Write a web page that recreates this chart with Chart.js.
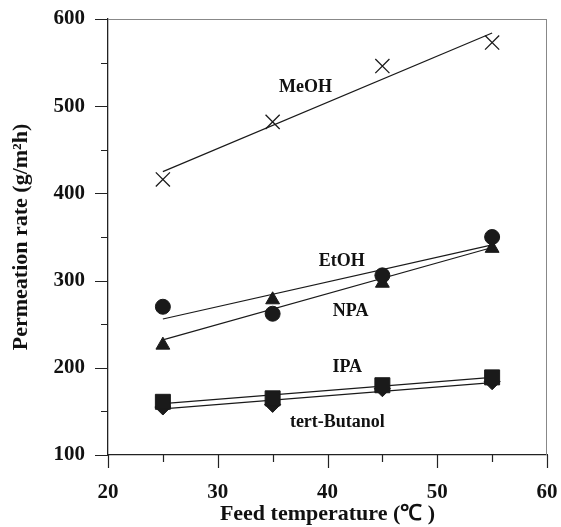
<!DOCTYPE html>
<html>
<head>
<meta charset="utf-8">
<script src="https://cdn.jsdelivr.net/npm/chart.js@4/dist/chart.umd.min.js"></script>
<style>
  body { margin: 0; background: #fff; }
</style>
</head>
<body>
<canvas id="chart" width="561" height="527"></canvas>
<script>
// feed temperatures (C)
const temps = [25, 35, 45, 55];

// measured permeation rates (g/m2h)
const meoh = [416, 482, 546, 573];
const etoh = [270, 262, 306, 350];
const npa  = [226, 278, 297, 337];
const ipa  = [161, 165, 180, 189];
const tbu  = [155, 158, 176, 184];

// fitted lines, value at 25 and 55 C
const fitX    = [25, 55];
const meohFit = [425, 584];
const etohFit = [256, 341];
const npaFit  = [232, 338];
const ipaFit  = [159, 189];
const tbuFit  = [153, 183];

// text labels next to each series [name, x, y]
const seriesLabels = [
  ["MeOH", 38.0, 522],
  ["EtOH", 41.3, 322],
  ["NPA", 42.1, 265],
  ["IPA", 41.8, 200],
  ["tert-Butanol", 40.9, 138]
];

const xTicks = [20, 30, 40, 50, 60];
const yTicks = [100, 200, 300, 400, 500, 600];

const SERIF = "'Liberation Serif', 'Times New Roman', serif";

function pts(xs, ys) {
  return xs.map((x, i) => ({ x: x, y: ys[i] }));
}

function markers(label, ys, style, r, order) {
  return {
    label: label,
    data: pts(temps, ys),
    showLine: false,
    pointStyle: style,
    pointRadius: r,
    pointHoverRadius: r,
    pointBackgroundColor: style === 'crossRot' ? 'rgba(0,0,0,0)' : '#1a1a1a',
    pointBorderColor: '#1a1a1a',
    pointBorderWidth: style === 'crossRot' ? 1.3 : 1,
    order: order
  };
}

function fitLine(ys) {
  return {
    data: pts(fitX, ys),
    showLine: true,
    borderColor: '#1a1a1a',
    borderWidth: 1.2,
    pointRadius: 0,
    fill: false,
    order: 10
  };
}

// minor/major tick marks, frame and series labels
const decor = {
  id: 'decor',
  afterDraw(chart) {
    const ctx = chart.ctx;
    const xs = chart.scales.x, ys = chart.scales.y;
    const a = chart.chartArea;
    ctx.save();
    ctx.strokeStyle = '#888';
    ctx.lineWidth = 1;
    ctx.beginPath();
    ctx.moveTo(a.left - 13, a.top + 0.5);
    ctx.lineTo(a.right, a.top + 0.5);
    ctx.moveTo(a.right - 0.5, a.top);
    ctx.lineTo(a.right - 0.5, a.bottom);
    ctx.stroke();

    ctx.strokeStyle = '#222';
    ctx.lineWidth = 1.2;
    ctx.beginPath();
    for (let v = 100; v <= 600; v += 50) {
      const y = Math.round(ys.getPixelForValue(v)) + 0.5;
      const len = v % 100 === 0 ? 13 : 7;
      ctx.moveTo(a.left - len, y);
      ctx.lineTo(a.left, y);
    }
    for (let v = 20; v <= 60; v += 5) {
      const x = Math.round(xs.getPixelForValue(v)) + 0.5;
      const len = v % 10 === 0 ? 13 : 7;
      ctx.moveTo(x, a.bottom);
      ctx.lineTo(x, a.bottom + len);
    }
    ctx.stroke();

    ctx.fillStyle = '#111';
    ctx.font = "bold 18px " + SERIF;
    ctx.textAlign = 'center';
    ctx.textBaseline = 'middle';
    seriesLabels.forEach(l => {
      ctx.fillText(l[0], xs.getPixelForValue(l[1]), ys.getPixelForValue(l[2]));
    });
    ctx.restore();
  }
};

new Chart(document.getElementById("chart"), {
  type: 'scatter',
  data: {
    datasets: [
      markers("MeOH", meoh, 'crossRot', 10, 1),
      markers("EtOH", etoh, 'circle', 7.5, 1),
      markers("NPA", npa, 'triangle', 8, 2),
      markers("IPA", ipa, 'rect', 10.6, 1),
      markers("tert-Butanol", tbu, 'rectRot', 8, 3),
      fitLine(meohFit),
      fitLine(etohFit),
      fitLine(npaFit),
      fitLine(ipaFit),
      fitLine(tbuFit)
    ]
  },
  options: {
    responsive: false,
    animation: false,
    layout: { padding: { left: 0, right: 14, top: 19, bottom: 0 } },
    plugins: {
      legend: { display: false },
      tooltip: { enabled: false }
    },
    scales: {
      x: {
        type: 'linear',
        min: 20,
        max: 60,
        afterFit(scale) {
          scale.height = 72;
          scale.paddingLeft = 0;
          scale.paddingRight = 0;
        },
        afterBuildTicks(scale) { scale.ticks = xTicks.map(v => ({ value: v })); },
        border: { display: true, color: '#222', width: 1.3 },
        grid: { drawOnChartArea: false, drawTicks: false },
        ticks: {
          color: '#111',
          padding: 25,
          maxRotation: 0,
          font: { family: SERIF, size: 21, weight: 'bold' }
        },
        title: {
          display: true,
          text: 'Feed temperature (℃ )',
          color: '#111',
          padding: { top: 0, bottom: -1 },
          font: { family: SERIF, size: 22, weight: 'bold' }
        }
      },
      y: {
        type: 'linear',
        min: 100,
        max: 600,
        afterFit(scale) {
          scale.width = 108;
          scale.paddingTop = 0;
          scale.paddingBottom = 0;
        },
        afterBuildTicks(scale) { scale.ticks = yTicks.map(v => ({ value: v })); },
        border: { display: true, color: '#222', width: 1.3 },
        grid: { drawOnChartArea: false, drawTicks: false },
        ticks: {
          color: '#111',
          padding: 23,
          font: { family: SERIF, size: 21, weight: 'bold' }
        },
        title: {
          display: true,
          text: 'Permeation rate (g/m²h)',
          color: '#111',
          padding: { top: 8, bottom: 0 },
          font: { family: SERIF, size: 22, weight: 'bold' }
        }
      }
    }
  },
  plugins: [decor]
});
</script>
</body>
</html>
